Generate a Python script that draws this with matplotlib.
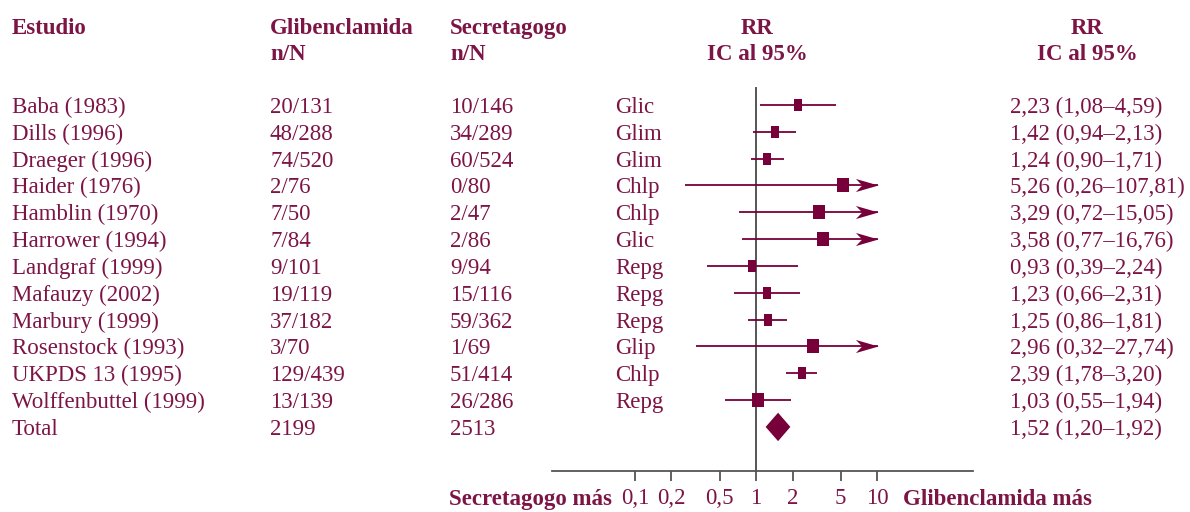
import matplotlib
matplotlib.use("Agg")
import matplotlib.pyplot as plt
import matplotlib.transforms as mtransforms

# ---------------- data ----------------
studies = ["Baba (1983)", "Dills (1996)", "Draeger (1996)", "Haider (1976)",
           "Hamblin (1970)", "Harrower (1994)", "Landgraf (1999)", "Mafauzy (2002)",
           "Marbury (1999)", "Rosenstock (1993)", "UKPDS 13 (1995)", "Wolffenbuttel (1999)"]
glib_n = [20, 48, 74, 2, 7, 7, 9, 19, 37, 3, 129, 13]
glib_N = [131, 288, 520, 76, 50, 84, 101, 119, 182, 70, 439, 139]
sec_n = [10, 34, 60, 0, 2, 2, 9, 15, 59, 1, 51, 26]
sec_N = [146, 289, 524, 80, 47, 86, 94, 116, 362, 69, 414, 286]
drugs = ["Glic", "Glim", "Glim", "Chlp", "Chlp", "Glic", "Repg", "Repg",
         "Repg", "Glip", "Chlp", "Repg"]
rr = [2.23, 1.42, 1.24, 5.26, 3.29, 3.58, 0.93, 1.23, 1.25, 2.96, 2.39, 1.03]
ci_lo = [1.08, 0.94, 0.90, 0.26, 0.72, 0.77, 0.39, 0.66, 0.86, 0.32, 1.78, 0.55]
ci_hi = [4.59, 2.13, 1.71, 107.81, 15.05, 16.76, 2.24, 2.31, 1.81, 27.74, 3.20, 1.94]
total_label = "Total"
total_glib = "2199"
total_sec = "2513"
total_rr, total_lo, total_hi = 1.52, 1.20, 1.92
tick_vals = [0.1, 0.2, 0.5, 1, 2, 5, 10]
tick_labels = ["0,1", "0,2", "0,5", "1", "2", "5", "10"]
header_cols = ["Estudio", "Glibenclamida\nn/N", "Secretagogo\nn/N", "RR\nIC al 95%", "RR\nIC al 95%"]
left_axis_label = "Secretagogo más"
right_axis_label = "Glibenclamida más"

# ---------------- style ----------------
TXT = "#7d1446"
MARK = "#78003a"
AXC = "#555555"
FONT = ["Liberation Serif", "DejaVu Serif"]
FS = 16.5
W, H = 1190, 512
box_pt = [8.8, 8.8, 8.8, 10.2, 10.2, 10.2, 8.8, 8.8, 8.8, 10.2, 8.8, 9.8]
arrow_tip = 10.2

plt.rcParams["font.family"] = FONT

fig = plt.figure(figsize=(W / 100, H / 100), dpi=100)
ax = fig.add_axes([552 / W, 0, 421 / W, 1])
ax.set_xscale("log")
ax.set_xlim(0.0206, 62.0)
ax.set_ylim(15.17, -3.91)
ax.patch.set_visible(False)
for s in ["left", "right", "top"]:
    ax.spines[s].set_visible(False)
ax.spines["bottom"].set_position(("data", 13.64))
ax.spines["bottom"].set_color(AXC)
ax.spines["bottom"].set_linewidth(1.3)
ax.set_yticks([])
ax.set_xticks(tick_vals)
ax.set_xticklabels(tick_labels)
ax.xaxis.set_minor_locator(matplotlib.ticker.NullLocator())
ax.tick_params(axis="x", length=7, width=1.3, color=AXC, labelcolor=TXT,
               labelsize=FS, pad=5, direction="out")

# reference line
ax.plot([1, 1], [-0.63, 13.64], color=AXC, lw=1.4, zorder=1)

# custom markers
def rect_marker(aspect):
    a = aspect / 2
    return [(-a, -0.5), (a, -0.5), (a, 0.5), (-a, 0.5), (-a, -0.5)]

stealth = [(0, 0), (-1, 0.29), (-0.72, 0), (-1, -0.29), (0, 0)]

rows = list(range(len(studies)))
for i in rows:
    hi = min(ci_hi[i], arrow_tip)
    ax.plot([ci_lo[i], hi], [i, i], color=MARK, lw=1.3, zorder=2, solid_capstyle="butt")
    if ci_hi[i] > arrow_tip:
        ax.plot([arrow_tip], [i], marker=stealth, markersize=32.5, color=MARK,
                markeredgewidth=0, zorder=3)
    big = box_pt[i] >= 9.5
    ax.plot([rr[i]], [i], marker=rect_marker(0.85 if big else 0.72),
            markersize=box_pt[i], color=MARK, markeredgewidth=0, zorder=4)

# total diamond
ty = len(studies)
dh = 0.53
ax.fill([total_lo, total_rr, total_hi, total_rr], [ty, ty - dh, ty, ty + dh],
        color=MARK, lw=0, zorder=4)

# text columns
tr = mtransforms.blended_transform_factory(fig.transFigure, ax.transData)
def put(xpx, y, s, ha="left", bold=False):
    fig.text(xpx / W, y, s, transform=tr, ha=ha, va="center_baseline", color=TXT,
             fontsize=FS, fontweight="bold" if bold else "normal")

def fmt(v):
    return ("%.2f" % v).replace(".", ",")

for i in rows:
    put(12, i, studies[i])
    put(270, i, "%d/%d" % (glib_n[i], glib_N[i]))
    put(450, i, "%d/%d" % (sec_n[i], sec_N[i]))
    put(615, i, drugs[i])
    put(1010, i, "%s (%s\u2013%s)" % (fmt(rr[i]), fmt(ci_lo[i]), fmt(ci_hi[i])))
put(12, ty, total_label)
put(270, ty, total_glib)
put(450, ty, total_sec)
put(1010, ty, "%s (%s\u2013%s)" % (fmt(total_rr), fmt(total_lo), fmt(total_hi)))

# headers
hx = [(12, "left"), (270, "left"), (450, "left"), (757, "center"), (1087, "center")]
for (x, ha), h in zip(hx, header_cols):
    lines = h.split("\n")
    for k, ln in enumerate(lines):
        put(x, -2.95 + k * 0.97, ln, ha=ha, bold=True)

# bottom labels
put(612, 14.6, left_axis_label, ha="right", bold=True)
put(903, 14.6, right_axis_label, ha="left", bold=True)

fig.savefig("out.png", dpi=100)
